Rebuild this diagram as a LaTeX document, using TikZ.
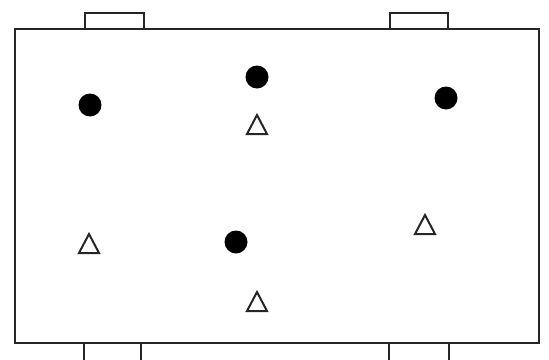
\documentclass[tikz,border=0pt]{standalone}
\begin{document}
\begin{tikzpicture}[x=1pt,y=-1pt,
  edge/.style={draw=black!85,line width=2pt},
  dot/.style={circle,fill=black,inner sep=0pt,minimum size=23pt},
  tri/.style={draw=black!85,line width=2pt,line join=miter}]
\useasboundingbox (0,0) rectangle (549,359);
% tabs
\draw[edge] (85,29) -- (85,13) -- (144,13) -- (144,29);
\draw[edge] (390,29) -- (390,13) -- (448,13) -- (448,29);
\draw[edge] (84,343) -- (84,362);
\draw[edge] (141,343) -- (141,362);
\draw[edge] (389,343) -- (389,362);
\draw[edge] (449,343) -- (449,362);
% main box
\draw[edge] (15,29) rectangle (539,343);
% dots
\node[dot] (d1) at (90,105) {};
\node[dot] (d2) at (257,77) {};
\node[dot] (d3) at (446,98) {};
\node[dot] (d4) at (236,242) {};
% triangles
\draw[tri] (257,115) -- (267,134) -- (247,134) -- cycle;
\draw[tri] (89,234) -- (99,253) -- (79,253) -- cycle;
\draw[tri] (425,215) -- (435,234) -- (415,234) -- cycle;
\draw[tri] (257,292) -- (267,311) -- (247,311) -- cycle;
\end{tikzpicture}
\end{document}
